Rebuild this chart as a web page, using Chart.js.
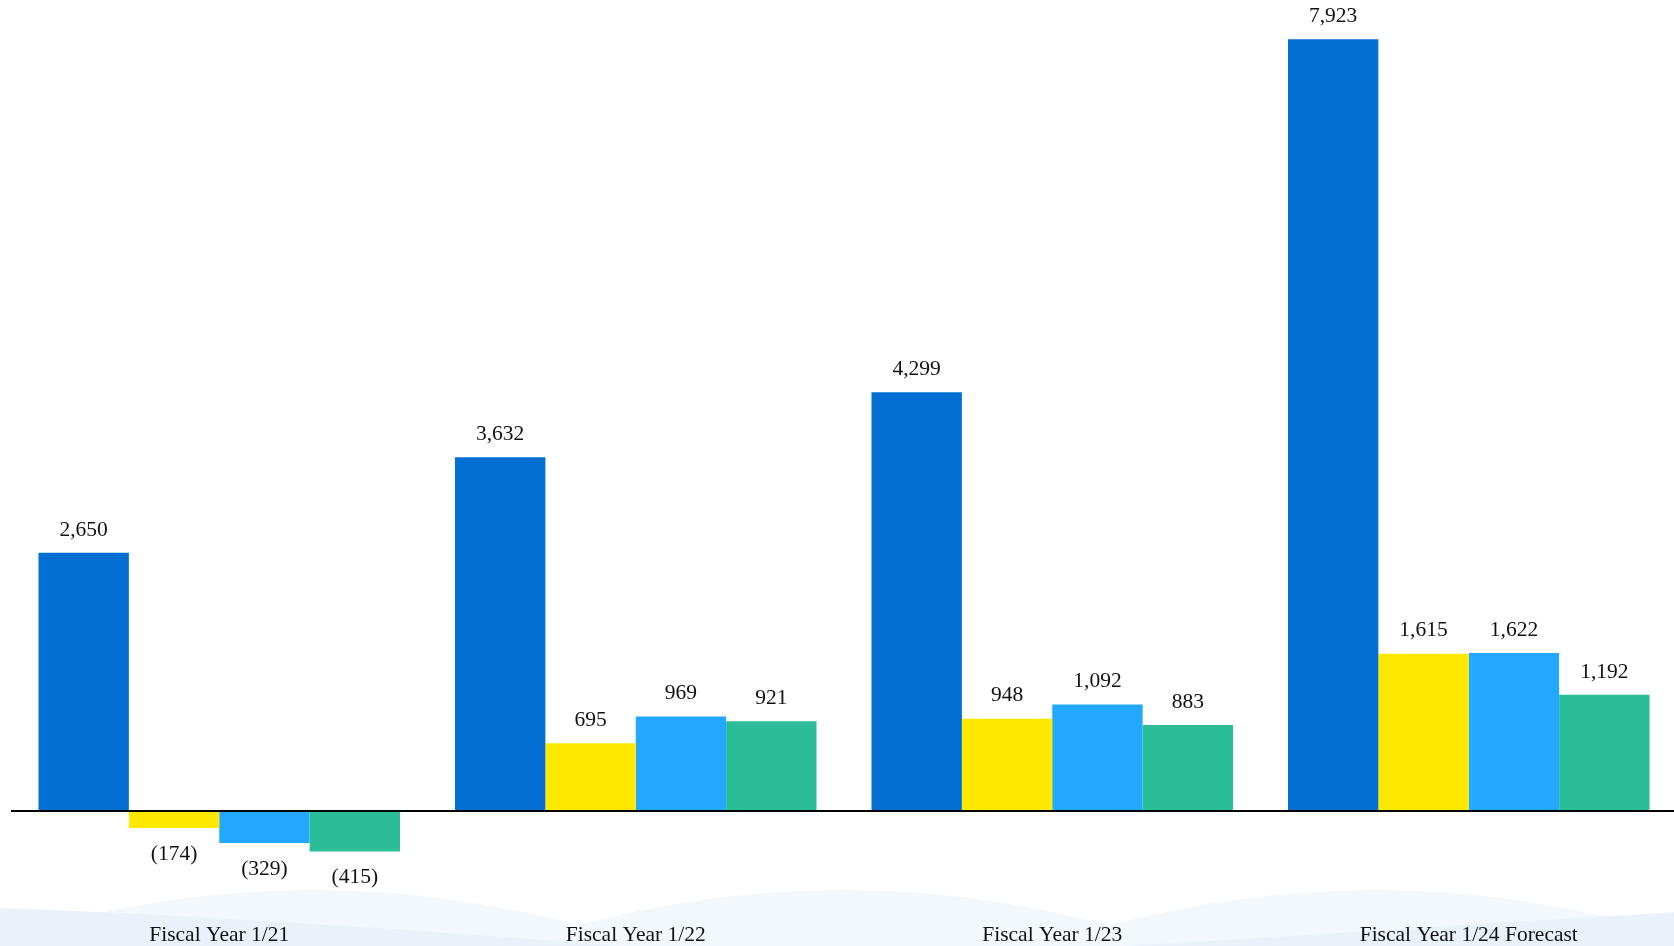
<!DOCTYPE html>
<html>
<head>
<meta charset="utf-8">
<script src="https://cdn.jsdelivr.net/npm/chart.js"></script>
<style>
  html, body { margin: 0; padding: 0; background: #fff; overflow: hidden; }
  #wrap { width: 1677px; height: 946px; position: relative; }
</style>
</head>
<body>
<div id="wrap"><canvas id="profitChart"></canvas></div>
<script>
// categories and series
const years = ['Fiscal Year 1/21', 'Fiscal Year 1/22', 'Fiscal Year 1/23', 'Fiscal Year 1/24 Forecast'];
const seriesA = [2650, 3632, 4299, 7923];
const seriesB = [-174, 695, 948, 1615];
const seriesC = [-329, 969, 1092, 1622];
const seriesD = [-415, 921, 883, 1192];

const colors = ['#046fd3', '#ffe800', '#22a8ff', '#2bbc98'];
const serif = '"Liberation Serif", "Times New Roman", serif';

function fmt(v) {
    const s = Math.abs(v).toLocaleString('en-US');
    return v < 0 ? '(' + s + ')' : s;
}

// light waves at the bottom of the slide (decoration only)
const wavesBg = {
    id: 'wavesBg',
    beforeDraw(chart) {
        const c = chart.ctx;
        const w = chart.width, h = chart.height;
        c.save();
        c.fillStyle = '#f3f8fd';
        [-210, 314, 843, 1375, 1900].forEach(cx => {
            c.beginPath();
            c.moveTo(cx - 400, 970);
            c.quadraticCurveTo(cx, 810, cx + 400, 970);
            c.closePath();
            c.fill();
        });

        c.fillStyle = '#e9f2fb';
        c.beginPath();
        c.moveTo(0, 908);
        c.bezierCurveTo(200, 915, 420, 930, 620, h);
        c.lineTo(0, h);
        c.closePath();
        c.fill();
        c.beginPath();
        c.moveTo(1120, h);
        c.bezierCurveTo(1320, 935, 1500, 922, w, 912);
        c.lineTo(w, h);
        c.closePath();
        c.fill();
        c.restore();
    }
};

// zero line + value labels
const valueLabels = {
    id: 'valueLabels',
    afterDatasetsDraw(chart) {
        const c = chart.ctx;
        const area = chart.chartArea;
        const y0 = chart.scales.y.getPixelForValue(0);
        c.save();
        c.strokeStyle = '#000';
        c.lineWidth = 2;
        c.beginPath();
        c.moveTo(area.left, y0);
        c.lineTo(chart.width, y0);
        c.stroke();

        c.fillStyle = '#111';
        c.font = '21.5px ' + serif;
        c.textAlign = 'center';
        c.textBaseline = 'middle';
        chart.data.datasets.forEach((ds, i) => {
            chart.getDatasetMeta(i).data.forEach((bar, j) => {
                const v = ds.data[j];
                const y = v < 0 ? bar.y + 26 : bar.y - 23;
                c.fillText(fmt(v), bar.x, y);
            });
        });
        c.restore();
    }
};

function initChart() {
    const ctx = document.getElementById('profitChart').getContext('2d');
    const sets = [seriesA, seriesB, seriesC, seriesD];
    new Chart(ctx, {
        type: 'bar',
        data: {
            labels: years,
            datasets: sets.map((d, i) => ({
                label: 'S' + (i + 1),
                data: d,
                backgroundColor: colors[i],
                borderWidth: 0
            }))
        },
        options: {
            responsive: true,
            maintainAspectRatio: false,
            animation: false,
            layout: { padding: { left: 11, right: 0, top: 20, bottom: -2 } },
            plugins: {
                legend: { display: false },
                tooltip: { enabled: false }
            },
            datasets: {
                bar: { categoryPercentage: 0.868, barPercentage: 1 }
            },
            scales: {
                x: {
                    grid: { display: false, drawTicks: false },
                    border: { display: false },
                    ticks: {
                        padding: 0,
                        color: '#111',
                        font: { family: serif, size: 21.5 }
                    }
                },
                y: {
                    display: false,
                    min: -1142,
                    max: 8121
                }
            }
        },
        plugins: [wavesBg, valueLabels]
    });
}

document.addEventListener('DOMContentLoaded', initChart);
</script>
</body>
</html>
